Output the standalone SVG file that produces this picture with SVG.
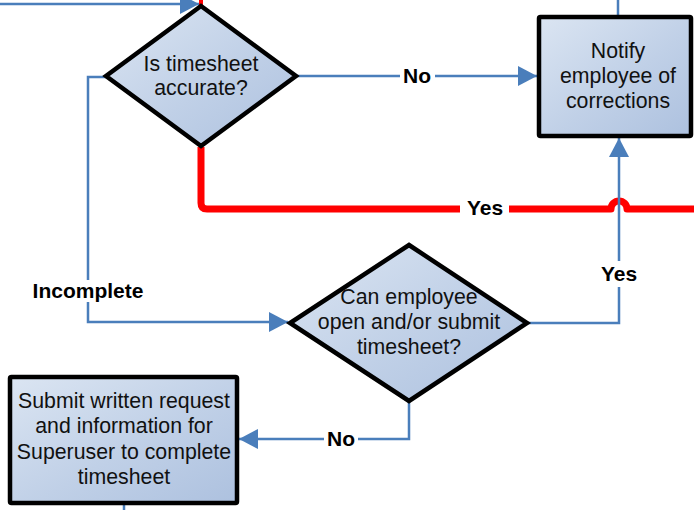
<svg xmlns="http://www.w3.org/2000/svg" width="694" height="510" viewBox="0 0 694 510">
  <style>
    .blue { fill: none; stroke: #4a7ebb; stroke-width: 2.5; }
    .red { fill: none; stroke: #ff0000; stroke-width: 7; stroke-linejoin: round; }
    .shape { fill: url(#grad); stroke: #000; stroke-width: 4.5; stroke-linejoin: miter; }
    .txt { font-family: "Liberation Sans", Arial, sans-serif; font-size: 21.3px; fill: #111; text-anchor: middle; }
    .lbl { font-family: "Liberation Sans", Arial, sans-serif; font-size: 21px; font-weight: bold; fill: #000; text-anchor: middle; }
    .bg { fill: #fff; }
  </style>
  <defs>
    <linearGradient id="grad" x1="0" y1="0" x2="1" y2="1">
      <stop offset="0" stop-color="#dbe5f2"/>
      <stop offset="0.55" stop-color="#c0d0e7"/>
      <stop offset="1" stop-color="#adc1df"/>
    </linearGradient>
    <marker id="arr" markerUnits="userSpaceOnUse" markerWidth="19" markerHeight="20" refX="19" refY="10" orient="auto">
      <path d="M0,0 L19,10 L0,20 z" fill="#4a7ebb"/>
    </marker>
  </defs>

  <g id="connectors">
    <path class="red" d="M201,147 V203 Q201,209 207,209 H611 A8,8 0 0 1 627,209 H694"/>
    <path d="M201,0 V6" stroke="#ff0000" stroke-width="4"/>
    <path class="blue" d="M0,4 H199" marker-end="url(#arr)"/>
    <path class="blue" d="M106,77 H88 V322 H288" marker-end="url(#arr)"/>
    <path class="blue" d="M297,76 H537" marker-end="url(#arr)"/>
    <path class="blue" d="M618,0 V15"/>
    <path class="blue" d="M528,323 H619 V138" marker-end="url(#arr)"/>
    <path class="blue" d="M409,401 V439 H239" marker-end="url(#arr)"/>
    <path class="blue" d="M124,505 V510"/>

    <rect class="bg" x="31" y="280" width="114" height="22"/>
    <text class="lbl" x="88" y="298">Incomplete</text>
    <rect class="bg" x="400" y="66" width="35" height="20"/>
    <text class="lbl" x="417" y="83">No</text>
    <rect class="bg" x="460" y="198" width="49" height="22"/>
    <text class="lbl" x="485" y="215">Yes</text>
    <rect class="bg" x="599" y="261" width="40" height="26"/>
    <text class="lbl" x="619" y="281">Yes</text>
    <rect class="bg" x="324" y="429" width="34" height="20"/>
    <text class="lbl" x="341" y="446">No</text>
  </g>

  <g id="accurate">
    <polygon class="shape" points="201,6 296,76 201,146 106,76"/>
    <text class="txt" x="201" y="71">Is timesheet</text>
    <text class="txt" x="201" y="95">accurate?</text>
  </g>

  <g id="notify">
    <rect class="shape" x="539" y="17" width="152" height="119" rx="1.5"/>
    <text class="txt" x="618" y="58">Notify</text>
    <text class="txt" x="618" y="83">employee of</text>
    <text class="txt" x="618" y="108">corrections</text>
  </g>

  <g id="can-open">
    <polygon class="shape" points="409,245 527,323 409,401 290,323"/>
    <text class="txt" x="409" y="304">Can employee</text>
    <text class="txt" x="409" y="329">open and/or submit</text>
    <text class="txt" x="409" y="354">timesheet?</text>
  </g>

  <g id="submit-request">
    <rect class="shape" x="10" y="377" width="227" height="126" rx="1.5"/>
    <text class="txt" x="124" y="408">Submit written request</text>
    <text class="txt" x="124" y="433">and information for</text>
    <text class="txt" x="124" y="459">Superuser to complete</text>
    <text class="txt" x="124" y="484">timesheet</text>
  </g>
</svg>
